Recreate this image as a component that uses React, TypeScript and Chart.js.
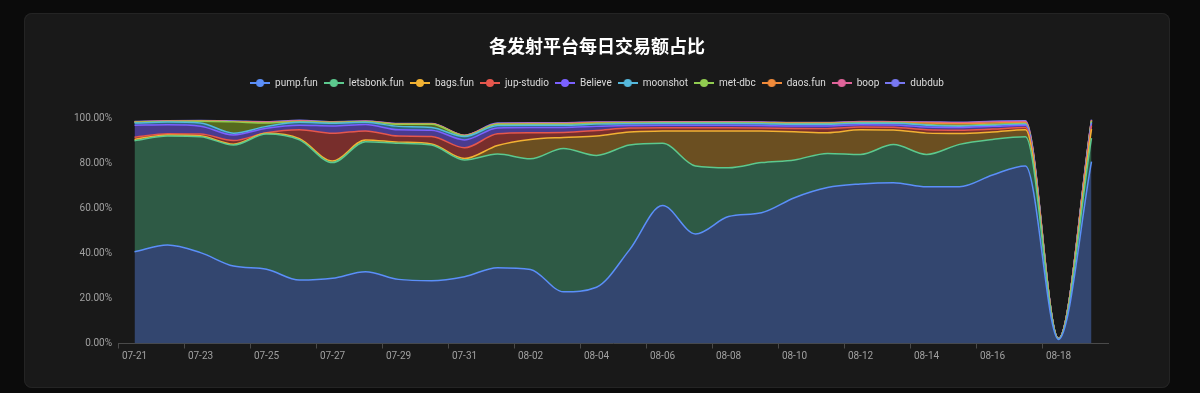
import { useEffect, useRef } from 'react';
import { Chart, registerables } from 'chart.js';

Chart.register(...registerables);

const dates = [
  '07-21', '07-22', '07-23', '07-24', '07-25', '07-26', '07-27', '07-28', '07-29', '07-30',
  '07-31', '08-01', '08-02', '08-03', '08-04', '08-05', '08-06', '08-07', '08-08', '08-09',
  '08-10', '08-11', '08-12', '08-13', '08-14', '08-15', '08-16', '08-17', '08-18', '08-19',
];

const seriesNames = ['pump.fun', 'letsbonk.fun', 'bags.fun', 'jup-studio', 'Believe', 'moonshot', 'met-dbc', 'daos.fun', 'boop', 'dubdub'];

const pumpFun = [40.8, 43.8, 40.4, 34.4, 33.0, 28.2, 29.0, 31.9, 28.5, 27.9, 29.7, 33.7, 32.9, 23.0, 25.0, 41.6, 61.3, 48.7, 56.4, 58.1, 64.8, 69.3, 70.9, 71.5, 69.7, 69.7, 74.9, 78.9, 1.8, 80.8];
const letsbonkFun = [49.3, 48.4, 51.5, 53.8, 60.1, 62.3, 51.4, 57.8, 60.5, 60.3, 51.9, 50.5, 49.2, 63.7, 58.6, 46.6, 27.7, 30.2, 21.7, 22.3, 16.8, 15.2, 13.1, 16.9, 14.3, 18.8, 15.8, 13.0, 0.2, 10.5];
const bagsFun = [0.6, 0.5, 0.4, 0.4, 0.3, 0.5, 0.7, 0.8, 0.5, 0.5, 0.6, 3.8, 8.6, 4.9, 8.6, 5.8, 5.4, 15.6, 16.4, 14.0, 12.5, 9.2, 11.0, 6.5, 9.5, 4.8, 3.3, 3.1, 0.05, 4.0];
const jupStudio = [1.0, 0.5, 0.8, 1.6, 0.3, 4.0, 12.3, 4.0, 2.7, 3.3, 4.8, 5.2, 3.0, 2.2, 2.5, 1.8, 1.5, 1.4, 1.4, 1.4, 1.5, 1.8, 1.2, 1.2, 1.5, 1.5, 1.3, 1.0, 0.05, 1.5];
const believe = [5.3, 4.0, 3.5, 2.5, 2.0, 2.0, 3.3, 2.8, 2.8, 2.8, 3.5, 2.6, 2.3, 2.2, 1.8, 1.1, 1.1, 1.1, 1.1, 1.1, 1.1, 1.2, 1.0, 1.0, 1.2, 1.2, 1.2, 1.0, 0.05, 1.0];
const moonshot = [1.0, 1.2, 1.4, 0.8, 0.8, 1.3, 1.2, 1.0, 1.5, 1.2, 1.5, 1.1, 1.0, 1.0, 1.0, 0.8, 0.8, 0.8, 0.8, 0.8, 0.8, 0.8, 0.7, 0.8, 0.8, 0.6, 0.5, 0.5, 0.02, 0.5];
const metDbc = [0.3, 0.3, 0.8, 5.0, 1.5, 0.3, 0.3, 0.3, 1.0, 1.5, 0.3, 0.5, 0.5, 0.5, 0.4, 0.3, 0.3, 0.3, 0.3, 0.3, 0.3, 0.3, 0.2, 0.2, 0.3, 0.3, 0.4, 0.3, 0.02, 0.5];
const daosFun = [0.1, 0.1, 0.1, 0.1, 0.2, 0.2, 0.1, 0.1, 0.1, 0.1, 0.1, 0.2, 0.2, 0.2, 0.2, 0.15, 0.15, 0.15, 0.15, 0.15, 0.15, 0.15, 0.2, 0.2, 0.7, 0.8, 0.6, 0.4, 0.02, 0.3];
const boop = [0.1, 0.1, 0.1, 0.1, 0.2, 0.2, 0.1, 0.1, 0.1, 0.1, 0.1, 0.1, 0.2, 0.2, 0.2, 0.15, 0.15, 0.15, 0.15, 0.15, 0.15, 0.15, 0.2, 0.1, 0.3, 0.4, 0.5, 0.5, 0.02, 0.2];
const dubdub = [0.2, 0.1, 0.1, 0.2, 0.2, 0.2, 0.2, 0.1, 0.1, 0.1, 0.1, 0.3, 0.2, 0.2, 0.2, 0.15, 0.15, 0.15, 0.15, 0.15, 0.15, 0.15, 0.2, 0.2, 0.2, 0.2, 0.3, 0.3, 0.02, 0.2];

const seriesValues = [pumpFun, letsbonkFun, bagsFun, jupStudio, believe, moonshot, metDbc, daosFun, boop, dubdub];

const yTicks = [0, 20, 40, 60, 80, 100];

const lineColors = ['#5b8ff9', '#5cc98e', '#f2b233', '#e5574d', '#7b61ff', '#55b8dc', '#91cc50', '#f08a3a', '#e0649a', '#7878f2'];
const fillColors = ['#33466f', '#2e5a45', '#6b4f21', '#782e2c', '#4a3b8e', '#2f6580', '#566a1e', '#7a4a22', '#7a3352', '#3f3f8f'];

function makeIcon(color: string) {
  const c = document.createElement('canvas');
  c.width = 20;
  c.height = 10;
  const g = c.getContext('2d')!;
  g.strokeStyle = color;
  g.lineWidth = 2;
  g.beginPath();
  g.moveTo(0, 5);
  g.lineTo(20, 5);
  g.stroke();
  g.fillStyle = color;
  g.beginPath();
  g.arc(10, 5, 4, 0, Math.PI * 2);
  g.fill();
  return c;
}

const legendSpacer = {
  id: 'legendSpacer',
  beforeInit(chart: any) {
    if (!chart.legend) return;
    const fit = chart.legend.fit;
    chart.legend.fit = function () {
      fit.call(this);
      this.height += 20.5;
    };
  },
};

export default function App() {
  const ref = useRef<HTMLCanvasElement>(null);

  useEffect(() => {
    if (!ref.current) return;
    Chart.defaults.font.family = 'Roboto, "Noto Sans", sans-serif';
    const icons = lineColors.map(makeIcon);
    const chart = new Chart(ref.current, {
      type: 'line',
      data: {
        labels: dates,
        datasets: seriesNames.map((name, i) => ({
          label: name,
          data: seriesValues[i],
          borderColor: lineColors[i],
          backgroundColor: fillColors[i],
          borderWidth: 1.5,
          fill: i === 0 ? 'origin' : '-1',
          pointRadius: 0,
          pointHoverRadius: 0,
          cubicInterpolationMode: 'monotone' as const,
        })),
      },
      options: {
        responsive: false,
        animation: false,
        devicePixelRatio: 1,
        layout: { padding: { left: 0, right: 0, top: 0, bottom: 14.5 } },
        plugins: {
          title: {
            display: true,
            text: '各发射平台每日交易额占比',
            color: '#ffffff',
            font: { family: '"Noto Sans CJK SC", sans-serif', size: 18, weight: 'bold' },
            padding: { top: 22, bottom: 15.4 },
          },
          legend: {
            display: true,
            position: 'top',
            labels: {
              usePointStyle: true,
              pointStyleWidth: 20,
              padding: 6,
              color: '#dcdcdc',
              font: { size: 10 },
              generateLabels: (ch: any) => {
                const items = Chart.defaults.plugins.legend.labels.generateLabels(ch);
                return items.map((it: any, i: number) => ({ ...it, pointStyle: icons[i], fontColor: '#dcdcdc' }));
              },
            },
          },
          tooltip: { enabled: false },
        },
        scales: {
          x: {
            type: 'category',
            offset: true,
            grid: {
              display: true,
              drawOnChartArea: false,
              drawTicks: true,
              tickLength: 5,
              offset: true,
              tickColor: (ctx: any) => (ctx.index % 2 === 0 ? '#4a4a4a' : 'rgba(0,0,0,0)'),
            },
            border: { display: true, color: '#4a4a4a' },
            ticks: {
              autoSkip: false,
              maxRotation: 0,
              minRotation: 0,
              padding: 2,
              color: '#a0a0a0',
              font: { size: 10 },
              callback: (_v: any, i: number) => (i % 2 === 0 ? dates[i] : ''),
            },
            afterFit: (s: any) => {
              s.height = 30;
            },
          },
          y: {
            type: 'linear',
            stacked: true,
            min: 0,
            max: 100,
            position: 'left',
            grid: { display: false, drawTicks: false },
            border: { display: false },
            afterBuildTicks: (s: any) => {
              s.ticks = yTicks.map((v) => ({ value: v }));
            },
            ticks: {
              padding: 6,
              color: '#a0a0a0',
              font: { size: 10 },
              callback: (v: any) => Number(v).toFixed(2) + '%',
            },
            afterFit: (s: any) => {
              s.width = 94;
            },
          },
          yRight: {
            type: 'linear',
            position: 'right',
            display: true,
            grid: { display: false, drawTicks: false },
            border: { display: false },
            ticks: { display: false },
            afterFit: (s: any) => {
              s.width = 62;
            },
          },
        },
      },
      plugins: [legendSpacer],
    } as any);
    return () => chart.destroy();
  }, []);

  return (
    <div style={{ position: 'fixed', left: 0, top: 0, width: 1200, height: 393, background: '#0b0b0b', overflow: 'hidden' }}>
      <div
        style={{
          position: 'absolute',
          left: 24,
          top: 13,
          width: 1146,
          height: 375,
          background: '#191919',
          borderRadius: 8,
          boxShadow: 'inset 0 0 0 1px #242424',
        }}
      >
        <canvas ref={ref} width={1146} height={375} style={{ display: 'block', width: 1146, height: 375 }} />
      </div>
    </div>
  );
}
